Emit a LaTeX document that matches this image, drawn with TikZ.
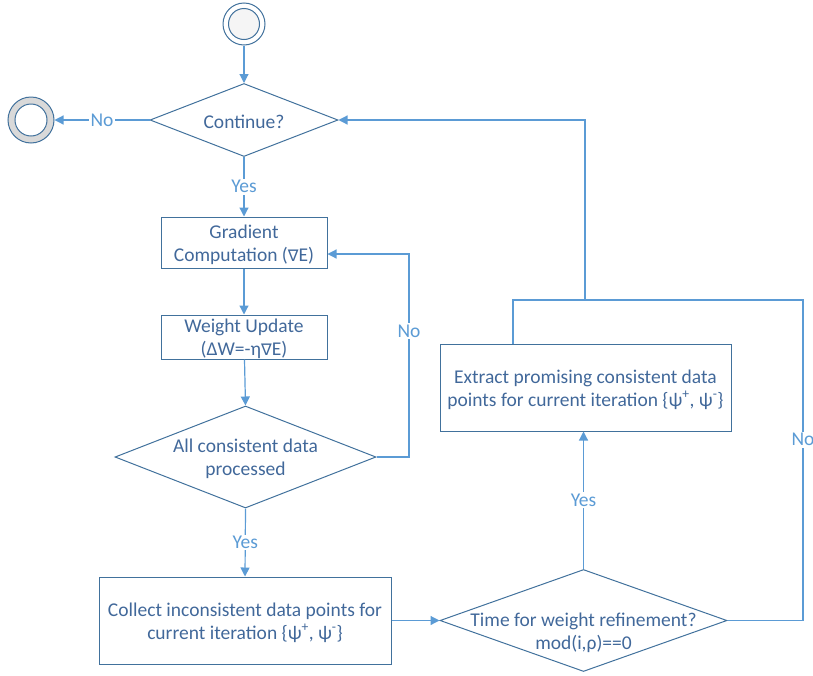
\documentclass[tikz,border=0pt]{standalone}
\usepackage{fontspec}
\setmainfont{Carlito}
\newfontfamily\symf{DejaVu Sans}[Scale=0.82]
\newcommand{\nab}{{\symf ∇}}
\usetikzlibrary{arrows.meta,shapes.geometric}
\definecolor{shp}{HTML}{41719C}
\definecolor{con}{HTML}{5B9BD5}
\definecolor{txt}{HTML}{41689A}
\definecolor{ringgray}{HTML}{D9D9D9}
\begin{document}
\begin{tikzpicture}[x=1pt,y=-1pt,
  box/.style={draw=shp, line width=1pt, inner sep=0pt},
  dia/.style={draw=shp, line width=1pt, diamond, inner sep=0pt},
  txtn/.style={text=txt, align=center, inner sep=0pt, yshift=-2pt, font=\fontsize{19.5}{23}\selectfont},
  conn/.style={draw=con, line width=1.2pt, -{Triangle[length=9pt,width=9pt]}},
  plain/.style={draw=con, line width=1.2pt},
  lbl/.style={fill=white, text=con, inner sep=1.5pt, font=\fontsize{19.5}{22}\selectfont}]
\useasboundingbox (0,0) rectangle (813,675);
% start
\node[circle, draw=shp, line width=1pt, fill=white, minimum size=42pt, inner sep=0pt] (start) at (244,24) {};
\node[circle, draw=shp, line width=1pt, fill=black!4, minimum size=31pt, inner sep=0pt] (startin) at (244,24) {};
% end
\node[circle, draw=shp, line width=1pt, fill=ringgray, minimum size=46pt, inner sep=0pt] (endc) at (31,120) {};
\node[circle, draw=shp, line width=1pt, fill=white, minimum size=32pt, inner sep=0pt] (endin) at (31,120) {};
% diamonds
\node[dia, minimum width=188pt, minimum height=73pt] (cont) at (244,120) {};
\node[txtn] (contT) at (244,120) {Continue?};
\node[dia, minimum width=261pt, minimum height=102pt] (all) at (245.5,457) {};
\node[txtn] (allT) at (245.5,457) {All consistent data\\processed};
\node[dia, minimum width=287pt, minimum height=102pt] (time) at (583.5,620.5) {};
\node[txtn] (timeT) at (583.5,631) {Time for weight refinement?\\mod(i,ρ)==0};
% boxes
\node[box, minimum width=166pt, minimum height=51pt] (grad) at (244,242.5) {};
\node[txtn] (gradT) at (244,242.5) {Gradient\\Computation (\nab E)};
\node[box, minimum width=166pt, minimum height=44pt] (weight) at (244,337) {};
\node[txtn] (weightT) at (244,337) {Weight Update\\(ΔW=-η\nab E)};
\node[box, minimum width=292pt, minimum height=87pt] (collect) at (245,620.5) {};
\node[txtn] (collectT) at (245,620.5) {Collect inconsistent data points for\\current iteration \{ψ\textsuperscript{+}, ψ\textsuperscript{-}\}};
\node[box, minimum width=291pt, minimum height=87pt] (extract) at (585.5,387.5) {};
\node[txtn] (extractT) at (585.5,387.5) {Extract promising consistent data\\points for current iteration \{ψ\textsuperscript{+}, ψ\textsuperscript{-}\}};
% coordinates
\coordinate (nA) at (409,457);
\coordinate (nB) at (409,254);
\coordinate (m1) at (513,300);
\coordinate (m2) at (585,300);
\coordinate (r1) at (803,620.5);
\coordinate (r2) at (803,300);
% connectors
\draw[conn] (start) -- (cont.north);
\draw[conn] (cont.west) -- node[lbl]{No} (endc);
\draw[conn] (cont.south) -- node[lbl]{Yes} (grad.north);
\draw[conn] (grad) -- (weight);
\draw[conn] (weight) -- (all.north);
\draw[conn] (all.east) -- (nA) -- node[lbl, pos=0.62]{No} (nB) -- (grad.east |- nB);
\draw[conn] (all.south) -- node[lbl]{Yes} (collect.north);
\draw[conn] (collect.east) -- (time.west);
\draw[conn] (time.north) -- node[lbl]{Yes} (extract.south -| time.north);
\draw[plain] (extract.north -| m1) -- (m1) -- (m2);
\draw[conn] (m2) |- (cont.east);
\draw[plain] (time.east) -- (r1) -- node[lbl, pos=0.564]{No} (r2) -- (m2);
\end{tikzpicture}
\end{document}
